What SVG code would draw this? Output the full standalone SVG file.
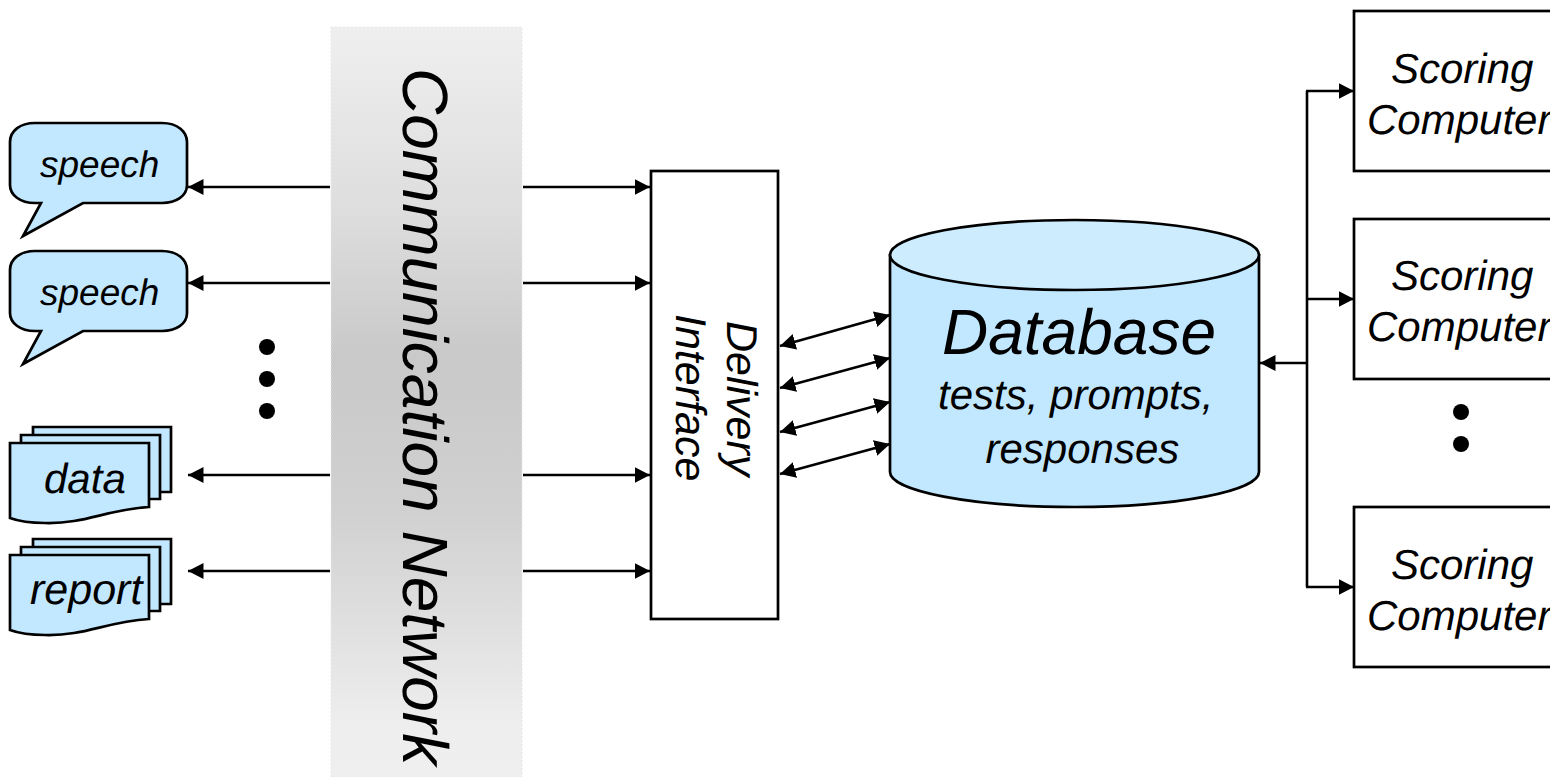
<svg xmlns="http://www.w3.org/2000/svg" width="1550" height="777" viewBox="0 0 1550 777">
<style>
text{font-family:"Liberation Sans",Arial,sans-serif;font-style:italic;fill:#000;text-rendering:geometricPrecision}
.t42{font-size:42px}.t43{font-size:43px}.t37{font-size:37px}.t64{font-size:64px}
.s{fill:#c2e8ff;stroke:#000;stroke-width:2.7;stroke-linejoin:miter}
.top{fill:#cdedff}
.b{fill:#fff;stroke:#000;stroke-width:2.7}
.c{fill:none;stroke:#000;stroke-width:2.6}
.d{fill:#000}
</style>
<defs>
<linearGradient id="net" gradientUnits="userSpaceOnUse" x1="0" y1="27" x2="0" y2="777">
<stop offset="0" stop-color="#efefef"/><stop offset="0.24" stop-color="#dedede"/><stop offset="0.44" stop-color="#c9c9c9"/><stop offset="0.64" stop-color="#d0d0d0"/><stop offset="0.8" stop-color="#e0e0e0"/><stop offset="0.93" stop-color="#eeeeee"/><stop offset="1" stop-color="#efefef"/>
</linearGradient>
<marker id="a" markerUnits="userSpaceOnUse" markerWidth="17" markerHeight="17" refX="15.500" refY="8.500" orient="auto-start-reverse" viewBox="0 0 17 17"><path d="M0 0.500L15.500 8.500L0 16.500Z" fill="#000"/></marker>
<path id="bub" d="M35 123H162C178 123 187 132 187 142V185C187 196 176 203 162 203H83L23 236L41 203H35C20 203 10 195 10 185V142C10 131 20 123 35 123Z"/>
<g id="doc">
<path class="s" d="M33 427H171V492H33Z"/>
<path class="s" d="M21 435H160V499H21Z"/>
<path class="s" d="M10 443H149V507C105 510 85 524 45 523C30 523 18 521 10 518Z"/>
</g>
</defs>
<g id="network"><rect x="331" y="27" width="191" height="750" fill="url(#net)" stroke="#e8e8e8" stroke-width="1" stroke-dasharray="2 2"/><text class="t64" transform="translate(403 68) rotate(90)">Communication Network</text></g>
<g id="speech1"><use href="#bub" class="s"/><text class="t37" x="40" y="177">speech</text></g>
<g id="speech2"><use href="#bub" class="s" y="128"/><text class="t37" x="40" y="305">speech</text></g>
<g id="data"><use href="#doc"/><text class="t42" x="44" y="493">data</text></g>
<g id="report"><use href="#doc" y="112"/><text class="t43" x="30" y="604">report</text></g>
<g id="delivery"><rect class="b" x="651" y="171" width="127" height="448"/><text class="t43" transform="translate(727 321) rotate(90)">Delivery</text><text class="t43" transform="translate(676 314) rotate(90)">Interface</text></g>
<g id="database"><path class="s" d="M890 255V472C890 491 972 507 1074.500 507S1259 491 1259 472V255Z"/><ellipse class="s top" cx="1074.500" cy="255" rx="184.500" ry="35"/><text class="t64" x="942" y="354">Database</text><text class="t42" x="938" y="409">tests, prompts,</text><text class="t42" x="985.500" y="463">responses</text></g>
<g id="scoring1"><rect class="b" x="1354" y="11" width="230" height="160"/><text class="t42" x="1391" y="83">Scoring</text><text class="t42" x="1367" y="134">Computer</text></g>
<g id="scoring2"><rect class="b" x="1354" y="219" width="230" height="160"/><text class="t42" x="1391" y="290">Scoring</text><text class="t42" x="1367" y="341">Computer</text></g>
<g id="scoring3"><rect class="b" x="1354" y="507" width="230" height="160"/><text class="t42" x="1391" y="579">Scoring</text><text class="t42" x="1367" y="630">Computer</text></g>
<g id="dots"><circle class="d" cx="267" cy="347" r="8"/><circle class="d" cx="267" cy="379" r="8"/><circle class="d" cx="267" cy="411" r="8"/><circle class="d" cx="1461" cy="412" r="8"/><circle class="d" cx="1461" cy="444" r="8"/></g>
<g id="connectors">
<path class="c" marker-end="url(#a)" d="M330 187H188"/>
<path class="c" marker-end="url(#a)" d="M330 283H188"/>
<path class="c" marker-end="url(#a)" d="M330 475H188"/>
<path class="c" marker-end="url(#a)" d="M330 571H188"/>
<path class="c" marker-end="url(#a)" d="M523 187H650"/>
<path class="c" marker-end="url(#a)" d="M523 283H650"/>
<path class="c" marker-end="url(#a)" d="M523 475H650"/>
<path class="c" marker-end="url(#a)" d="M523 571H650"/>
<path class="c" marker-start="url(#a)" marker-end="url(#a)" d="M780 346L890 315"/>
<path class="c" marker-start="url(#a)" marker-end="url(#a)" d="M780 388L890 358"/>
<path class="c" marker-start="url(#a)" marker-end="url(#a)" d="M780 432L890 402"/>
<path class="c" marker-start="url(#a)" marker-end="url(#a)" d="M780 474L890 444"/>
<path class="c" d="M1307 91V587"/>
<path class="c" marker-end="url(#a)" d="M1306 91H1354"/>
<path class="c" marker-end="url(#a)" d="M1306 587H1354"/>
<path class="c" marker-end="url(#a)" d="M1307 299H1354"/>
<path class="c" stroke-width="4" marker-end="url(#a)" d="M1307 363H1260"/>
</g>
</svg>
